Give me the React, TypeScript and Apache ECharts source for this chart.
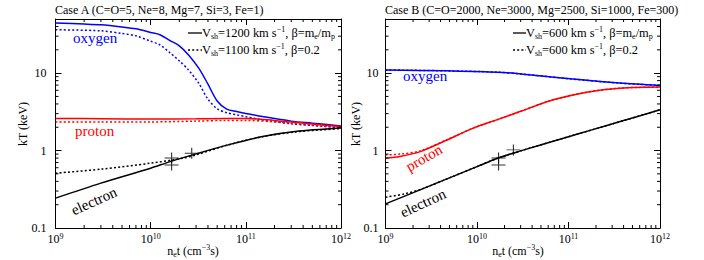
import React, { useEffect, useRef } from 'react';
import * as echarts from 'echarts';

const SERIF = 'Liberation Serif, DejaVu Serif, serif';
const BLUE = '#0000ff';
const RED = '#ff0000';
const BLACK = '#000000';

// ---------- Case A ----------
const oxygenSolidA: [number, number][] = [
  [1e9, 44.3], [2e9, 43.0], [3e9, 42.0], [5e9, 39.4], [7e9, 37.3], [1e10, 33.5],
  [1.25e10, 31.3], [1.6e10, 26.3], [2e10, 22.5], [2.5e10, 17.2], [3.2e10, 11.6],
  [4e10, 7.2], [5e10, 4.37], [6.3e10, 3.43], [8e10, 3.19], [1e11, 3.02],
  [1.5e11, 2.75], [3e11, 2.4], [5e11, 2.26], [1e12, 2.08],
];
const oxygenDottedA: [number, number][] = [
  [1e9, 36.3], [3e9, 35.2], [5e9, 32.5], [7e9, 30.3], [1e10, 25.8], [1.25e10, 23.2],
  [1.6e10, 18.3], [2e10, 14.4], [2.5e10, 11.0], [3.2e10, 7.4], [4e10, 4.6],
  [5e10, 3.47], [6.3e10, 3.08], [8e10, 2.89], [1e11, 2.74], [1.5e11, 2.49],
  [3e11, 2.22], [5e11, 2.11], [1e12, 1.98],
];
const protonSolidA: [number, number][] = [
  [1e9, 2.6], [3e9, 2.58], [1e10, 2.55], [3e10, 2.57], [6e10, 2.6], [1e11, 2.6],
  [2e11, 2.45], [3e11, 2.33], [5e11, 2.2], [1e12, 2.04],
];
const protonDottedA: [number, number][] = [
  [1e9, 2.33], [3e9, 2.33], [1e10, 2.34], [3e10, 2.4], [6e10, 2.45], [1e11, 2.45],
  [2e11, 2.35], [3e11, 2.25], [5e11, 2.12], [1e12, 1.97],
];
const electronSolidA: [number, number][] = [
  [1e9, 0.243], [3e9, 0.38], [1e10, 0.592], [1.6e10, 0.72], [3e10, 0.906],
  [6.5e10, 1.185], [1.5e11, 1.52], [3.3e11, 1.76], [1e12, 1.95],
];
const electronDottedA: [number, number][] = [
  [1e9, 0.51], [3e9, 0.575], [1e10, 0.687], [2.2e10, 0.798], [3e10, 0.88],
  [6.5e10, 1.18], [1.5e11, 1.51], [3.3e11, 1.74], [1e12, 1.92],
];
const obsA: [number, number][] = [[1.66e10, 0.8], [1.66e10, 0.65], [2.7e10, 0.925]];

// ---------- Case B ----------
const oxygenSolidB: [number, number][] = [
  [1e9, 11.0], [4.7e9, 10.7], [1.65e10, 10.3], [3.2e10, 9.7], [1.04e11, 8.43],
  [3.65e11, 7.43], [1e12, 6.92],
];
const oxygenDottedB: [number, number][] = [
  [1e9, 11.0], [4.7e9, 10.7], [1.65e10, 10.3], [3.2e10, 9.7], [1.04e11, 8.43],
  [3.65e11, 7.43], [1e12, 6.92],
];
const protonSolidB: [number, number][] = [
  [1e9, 0.8], [1.44e9, 0.84], [2.4e9, 0.97], [4.7e9, 1.37], [9.1e9, 1.95],
  [1.64e10, 2.49], [2.95e10, 3.19], [6.8e10, 4.52], [1.58e11, 5.68],
  [3.65e11, 6.4], [1e12, 6.6],
];
const protonDottedB: [number, number][] = [
  [1e9, 0.88], [1.44e9, 0.9], [2.4e9, 0.99], [4.7e9, 1.38], [9.1e9, 1.95],
  [1.64e10, 2.49], [2.95e10, 3.19], [6.8e10, 4.52], [1.58e11, 5.68],
  [3.65e11, 6.4], [1e12, 6.6],
];
const electronSolidB: [number, number][] = [
  [1e9, 0.205], [3e9, 0.347], [1e10, 0.62], [1.7e10, 0.8], [3e10, 0.99],
  [1e11, 1.51], [1.8e11, 1.85], [4e11, 2.44], [1e12, 3.36],
];
const electronDottedB: [number, number][] = [
  [1e9, 0.25], [1.6e9, 0.275], [2.5e9, 0.32], [5e9, 0.444], [1e10, 0.62],
  [1.7e10, 0.8], [3e10, 0.99], [1e11, 1.51], [1.8e11, 1.85], [4e11, 2.44], [1e12, 3.36],
];
const obsB: [number, number][] = [[1.72e10, 0.8], [1.72e10, 0.65], [2.5e10, 1.02]];

// ---------- axes ----------
const xRange = [1e9, 1e12];
const yRange = [0.1, 50];
const xMajorExps = [9, 10, 11, 12];
const yTickLabels: Record<string, string> = { '-1': '0.1', '0': '1', '1': '10' };
const minorMultipliers = [2, 3, 4, 5, 6, 7, 8, 9];

const L = (v: number) => Math.log10(v);
const toLog = (arr: [number, number][]) => arr.map(([x, y]) => [L(x), L(y)]);

const xMinor: number[] = [];
for (let n = 9; n < 12; n++) for (const k of minorMultipliers) xMinor.push(L(k * Math.pow(10, n)));
const yMinor: number[] = [];
for (let n = -1; n < 2; n++)
  for (const k of minorMultipliers) {
    const v = k * Math.pow(10, n);
    if (v < yRange[1]) yMinor.push(L(v));
  }

const isInt = (v: number) => Math.abs(v - Math.round(v)) < 1e-6;

export default function App() {
  const ref = useRef<HTMLDivElement>(null);
  useEffect(() => {
    document.body.style.margin = '0';
    if (!ref.current) return;
    const chart = echarts.init(ref.current, undefined, { renderer: 'svg' });

    const grids = [
      { left: 55.5, top: 19, width: 285.5, height: 209 },
      { left: 385.5, top: 19, width: 274.5, height: 209 },
    ];

    const xAxes: any[] = [];
    const yAxes: any[] = [];
    grids.forEach((_, gi) => {
      ['bottom', 'top'].forEach((pos) => {
        xAxes.push({
          type: 'value', gridIndex: gi, position: pos,
          min: L(xRange[0]), max: L(xRange[1]), interval: 1,
          axisLine: { show: true, onZero: false, lineStyle: { color: BLACK, width: 1 } },
          axisTick: { show: true, inside: true, length: 6, lineStyle: { color: BLACK, width: 1 } },
          splitLine: { show: false },
          axisLabel: pos === 'bottom' ? {
            show: true, margin: 4, fontFamily: SERIF,
            formatter: (v: number) => (isInt(v) && xMajorExps.includes(Math.round(v)) ? `{b|10}{s|${Math.round(v)}}` : ''),
            rich: {
              b: { fontSize: 12, fontFamily: SERIF, color: BLACK, lineHeight: 14 },
              s: { fontSize: 8, fontFamily: SERIF, color: BLACK, lineHeight: 8, verticalAlign: 'top' },
            },
          } : { show: false },
        });
      });
      ['left', 'right'].forEach((pos) => {
        yAxes.push({
          type: 'value', gridIndex: gi, position: pos,
          min: L(yRange[0]), max: L(yRange[1]), interval: 1,
          axisLine: { show: true, onZero: false, lineStyle: { color: BLACK, width: 1 } },
          axisTick: { show: true, inside: true, length: 6, lineStyle: { color: BLACK, width: 1 } },
          splitLine: { show: false },
          axisLabel: pos === 'left' ? {
            show: true, margin: gi === 0 ? 9 : 7,
            fontSize: 12, fontFamily: SERIF, color: BLACK,
            formatter: (v: number) => (isInt(v) ? yTickLabels[String(Math.round(v))] || '' : ''),
          } : { show: false },
        });
      });
    });

    const minorSeries = (gi: number): any[] => [
      {
        type: 'custom', coordinateSystem: 'cartesian2d', xAxisIndex: gi * 2, yAxisIndex: gi * 2,
        silent: true, z: 5, clip: false,
        data: xMinor.map((v) => [v, L(yRange[0])]),
        renderItem: (params: any, api: any) => {
          const cs = params.coordSys;
          const px = api.coord([api.value(0), api.value(1)])[0];
          const b = cs.y + cs.height;
          return {
            type: 'group', children: [
              { type: 'line', shape: { x1: px, y1: b, x2: px, y2: b - 3 }, style: { stroke: BLACK, lineWidth: 1 } },
              { type: 'line', shape: { x1: px, y1: cs.y, x2: px, y2: cs.y + 3 }, style: { stroke: BLACK, lineWidth: 1 } },
            ],
          };
        },
      },
      {
        type: 'custom', coordinateSystem: 'cartesian2d', xAxisIndex: gi * 2, yAxisIndex: gi * 2,
        silent: true, z: 5, clip: false,
        data: yMinor.map((v) => [L(xRange[0]), v]),
        renderItem: (params: any, api: any) => {
          const cs = params.coordSys;
          const py = api.coord([api.value(0), api.value(1)])[1];
          const r = cs.x + cs.width;
          return {
            type: 'group', children: [
              { type: 'line', shape: { x1: cs.x, y1: py, x2: cs.x + 3, y2: py }, style: { stroke: BLACK, lineWidth: 1 } },
              { type: 'line', shape: { x1: r, y1: py, x2: r - 3, y2: py }, style: { stroke: BLACK, lineWidth: 1 } },
            ],
          };
        },
      },
    ];

    const lineSeries = (gi: number, data: [number, number][], color: string, dotted: boolean): any => ({
      type: 'line', xAxisIndex: gi * 2, yAxisIndex: gi * 2,
      data: toLog(data), showSymbol: false, symbol: 'none',
      smooth: 0.3, clip: true,
      lineStyle: { color, width: 1.5, type: dotted ? [2, 2.2] : 'solid' },
      z: dotted ? 3 : 4,
    });

    const crossSeries = (gi: number, data: [number, number][]): any => ({
      type: 'scatter', xAxisIndex: gi * 2, yAxisIndex: gi * 2,
      data: toLog(data),
      symbol: 'path://M0,5.5L14,5.5M7,0L7,11', symbolSize: [14, 11],
      itemStyle: { color: 'transparent', borderColor: BLACK, borderWidth: 1 },
      z: 6,
    });

    const series: any[] = [
      ...minorSeries(0), ...minorSeries(1),
      lineSeries(0, oxygenDottedA, BLUE, true), lineSeries(0, oxygenSolidA, BLUE, false),
      lineSeries(0, protonDottedA, RED, true), lineSeries(0, protonSolidA, RED, false),
      lineSeries(0, electronDottedA, BLACK, true), lineSeries(0, electronSolidA, BLACK, false),
      crossSeries(0, obsA),
      lineSeries(1, oxygenDottedB, BLUE, true), lineSeries(1, oxygenSolidB, BLUE, false),
      lineSeries(1, protonDottedB, RED, true), lineSeries(1, protonSolidB, RED, false),
      lineSeries(1, electronDottedB, BLACK, true), lineSeries(1, electronSolidB, BLACK, false),
      crossSeries(1, obsB),
    ];

    const richText = {
      sub: { fontSize: 8, fontFamily: SERIF, fill: BLACK, color: BLACK, lineHeight: 7, verticalAlign: 'bottom' },
      sup: { fontSize: 8, fontFamily: SERIF, fill: BLACK, color: BLACK, lineHeight: 8, verticalAlign: 'top' },
    };
    const txt = (x: number, y: number, text: string, opts: any = {}) => ({
      type: 'text', x, y, rotation: opts.rotation || 0, z: 10,
      style: {
        text, fill: opts.color || BLACK, fontSize: opts.fontSize || 12, fontFamily: SERIF,
        align: opts.align || 'left', verticalAlign: 'middle', lineHeight: opts.lineHeight || 15,
        rich: richText,
      },
    });
    const legLine = (x1: number, x2: number, y: number, dotted: boolean) => ({
      type: 'line', z: 10,
      shape: { x1, y1: y, x2, y2: y },
      style: { stroke: BLACK, lineWidth: 1.3, lineDash: dotted ? [2, 2.2] : null },
    });
    const deg = Math.PI / 180;

    const graphic: any[] = [
      txt(55, 10, 'Case A (C=O=5, Ne=8, Mg=7, Si=3, Fe=1)'),
      txt(385, 10, 'Case B (C=O=2000, Ne=3000, Mg=2500, Si=1000, Fe=300)'),
      // legends
      legLine(188, 202, 33, false),
      txt(202, 33, 'V{sub|sh}=1200 km s{sup|−1}, β=m{sub|e}/m{sub|p}', { fontSize: 12.4 }),
      legLine(188, 202, 50, true),
      txt(202, 50, 'V{sub|sh}=1100 km s{sup|−1}, β=0.2', { fontSize: 12.4 }),
      legLine(513, 526, 33, false),
      txt(526, 33, 'V{sub|sh}=600 km s{sup|−1}, β=m{sub|e}/m{sub|p}', { fontSize: 12.4 }),
      legLine(513, 526, 50, true),
      txt(526, 50, 'V{sub|sh}=600 km s{sup|−1}, β=0.2', { fontSize: 12.4 }),
      // curve labels
      txt(73, 38, 'oxygen', { color: BLUE, fontSize: 15 }),
      txt(75, 131, 'proton', { color: RED, fontSize: 15 }),
      txt(94, 201, 'electron', { fontSize: 15, align: 'center', rotation: 24 * deg }),
      txt(403, 76, 'oxygen', { color: BLUE, fontSize: 15 }),
      txt(424, 158, 'proton', { color: RED, fontSize: 15, align: 'center', rotation: 30 * deg }),
      txt(423, 203, 'electron', { fontSize: 15, align: 'center', rotation: 25 * deg }),
      // axis titles
      txt(23, 124, 'kT (keV)', { align: 'center', rotation: 90 * deg }),
      txt(356, 124, 'kT (keV)', { align: 'center', rotation: 90 * deg }),
      txt(193, 251, 'n{sub|e}t (cm{sup|−3}s)', { align: 'center' }),
      txt(518, 251, 'n{sub|e}t (cm{sup|−3}s)', { align: 'center' }),
    ];

    chart.setOption({
      animation: false,
      backgroundColor: '#ffffff',
      textStyle: { fontFamily: SERIF },
      grid: grids.map((g) => ({ ...g, containLabel: false })),
      xAxis: xAxes,
      yAxis: yAxes,
      series,
      graphic,
    });
    return () => chart.dispose();
  }, []);
  return <div ref={ref} style={{ width: 704, height: 260 }} />;
}
